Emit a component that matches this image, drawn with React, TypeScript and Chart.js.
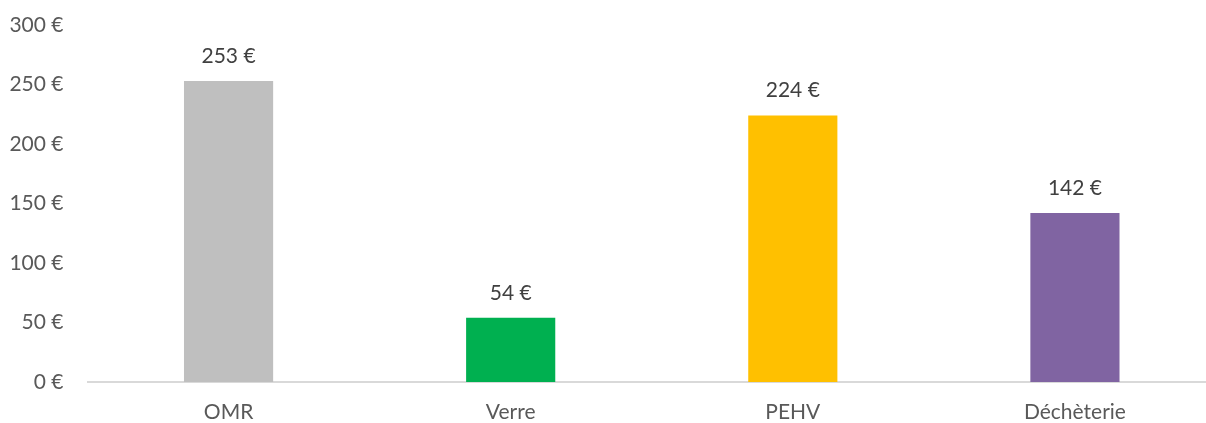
import React, { useEffect, useRef } from "react";
import { Chart, registerables } from "chart.js";

Chart.register(...registerables);

const categories = ["OMR", "Verre", "PEHV", "Déchèterie"];
const values = [253, 54, 224, 142];
const barColors = ["#BFBFBF", "#00B050", "#FFC000", "#8064A2"];
const yTicks = [0, 50, 100, 150, 200, 250, 300];

const FONT = "Lato, 'Open Sans', sans-serif";
const TEXT = "#595959";

const labelPlugin = {
  id: "barLabels",
  afterDatasetsDraw(chart: any) {
    const ctx = chart.ctx;
    const meta = chart.getDatasetMeta(0);
    ctx.save();
    ctx.font = `21px ${FONT}`;
    ctx.fillStyle = "#404040";
    ctx.textAlign = "center";
    ctx.textBaseline = "middle";
    meta.data.forEach((bar: any, i: number) => {
      ctx.fillText(`${values[i]} €`, bar.x, bar.y - 25);
    });
    ctx.restore();
  },
};

export default function App() {
  const ref = useRef<HTMLCanvasElement>(null);
  useEffect(() => {
    if (!ref.current) return;
    const chart = new Chart(ref.current, {
      type: "bar",
      data: {
        labels: categories,
        datasets: [
          {
            data: values,
            backgroundColor: barColors,
            categoryPercentage: 1,
            barPercentage: 0.316,
          },
        ],
      },
      options: {
        animation: false,
        responsive: false,
        layout: { padding: { top: 25, right: 0, left: 0, bottom: 0 } },
        plugins: { legend: { display: false }, tooltip: { enabled: false } },
        scales: {
          x: {
            grid: { display: false },
            border: { display: true, color: "#D9D9D9", width: 2 },
            ticks: {
              color: TEXT,
              font: { family: FONT, size: 21 },
              padding: 10,
            },
            afterFit(scale: any) {
              scale.height = 41;
            },
          },
          y: {
            min: 0,
            max: 300,
            grid: { display: false, drawTicks: false },
            border: { display: false },
            afterBuildTicks(scale: any) {
              scale.ticks = yTicks.map((v) => ({ value: v }));
            },
            ticks: {
              color: TEXT,
              font: { family: FONT, size: 21 },
              padding: 24,
              callback: (v: any) => `${v} €`,
            },
            afterFit(scale: any) {
              scale.width = 87.5;
              scale.paddingTop = 0;
              scale.paddingBottom = 0;
            },
          },
        },
      },
      plugins: [labelPlugin],
    });
    return () => chart.destroy();
  }, []);
  return (
    <div
      style={{
        position: "fixed",
        left: 0,
        top: 0,
        width: 1206,
        height: 423,
        overflow: "hidden",
        background: "#fff",
      }}
    >
      <canvas ref={ref} width={1216} height={423} style={{ display: "block" }} />
    </div>
  );
}
